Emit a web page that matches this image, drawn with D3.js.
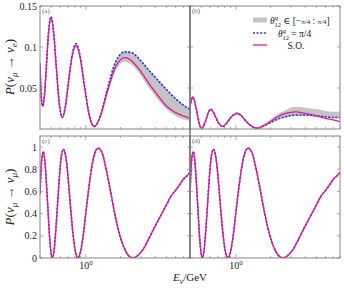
<!DOCTYPE html>
<html>
<head>
<meta charset="utf-8">
<script src="https://cdn.jsdelivr.net/npm/d3@7"></script>
<style>
  body { margin: 0; background: #fff; }
  svg { display: block; }
  text { font-family: "Liberation Serif", "DejaVu Serif", serif; fill: #222; }
</style>
</head>
<body>
<div id="chart"></div>
<script>
// ---- data ----
// (a) P(nu_mu -> nu_e), left setup
const energyA = [0.40,0.41,0.422,0.439,0.457,0.476,0.498,0.525,0.554,0.587,0.624,0.664,0.709,0.761,0.821,0.889,0.969,1.064,1.18,1.333,1.531,1.80,2.18,2.5,3.0,3.5,4.0,5.0,6.0,7.0,8.0];
const soA      = [0.080,0.040,0.028,0.044,0.082,0.119,0.135,0.117,0.075,0.032,0.014,0.027,0.058,0.089,0.102,0.088,0.053,0.018,0.003,0.015,0.045,0.075,0.087,0.083,0.070,0.056,0.045,0.028,0.020,0.016,0.013];
const maxMixA  = [0.080,0.040,0.028,0.044,0.083,0.121,0.137,0.119,0.076,0.032,0.014,0.028,0.060,0.091,0.104,0.090,0.055,0.019,0.003,0.016,0.048,0.081,0.094,0.093,0.083,0.072,0.063,0.048,0.037,0.029,0.024];
const bandLoA  = [0.079,0.039,0.027,0.043,0.081,0.117,0.133,0.115,0.073,0.031,0.013,0.026,0.056,0.086,0.099,0.085,0.051,0.016,0.002,0.013,0.041,0.070,0.082,0.078,0.065,0.051,0.040,0.024,0.016,0.012,0.010];
const bandHiA  = [0.081,0.041,0.029,0.045,0.084,0.122,0.138,0.120,0.077,0.033,0.015,0.029,0.061,0.092,0.105,0.091,0.056,0.020,0.004,0.017,0.049,0.082,0.095,0.094,0.084,0.073,0.064,0.049,0.038,0.030,0.025];

// (b) P(nu_mu -> nu_e), right setup
const energyB = [0.40,0.422,0.44,0.46,0.48,0.505,0.53,0.555,0.58,0.605,0.635,0.67,0.71,0.768,0.83,0.89,0.95,1.016,1.10,1.20,1.32,1.534,1.75,2.0,2.3,2.7,3.26,4.0,5.0,6.0,7.0,8.0];
const soB      = [0.027,0.039,0.033,0.020,0.007,0.001,0.005,0.013,0.021,0.024,0.021,0.014,0.007,0.003,0.007,0.013,0.017,0.019,0.017,0.011,0.005,0.001,0.004,0.009,0.015,0.019,0.021,0.019,0.016,0.013,0.011,0.009];
const maxMixB  = [0.027,0.039,0.033,0.020,0.007,0.001,0.005,0.013,0.021,0.024,0.021,0.014,0.007,0.003,0.007,0.013,0.017,0.019,0.017,0.011,0.005,0.001,0.004,0.008,0.012,0.015,0.017,0.017,0.016,0.015,0.014,0.014];
const bandLoB  = [0.026,0.038,0.032,0.019,0.006,0.000,0.004,0.012,0.020,0.023,0.020,0.013,0.006,0.002,0.006,0.012,0.016,0.018,0.016,0.010,0.004,0.000,0.003,0.007,0.011,0.014,0.016,0.016,0.015,0.014,0.013,0.013];
const bandHiB  = [0.028,0.040,0.034,0.021,0.008,0.002,0.006,0.014,0.022,0.025,0.022,0.015,0.008,0.004,0.008,0.014,0.018,0.020,0.018,0.012,0.006,0.002,0.006,0.012,0.018,0.023,0.027,0.026,0.024,0.022,0.021,0.021];

// (c), (d) P(nu_mu -> nu_mu)
const energyC = [0.40,0.415,0.427,0.44,0.455,0.47,0.485,0.50,0.512,0.53,0.55,0.57,0.59,0.615,0.64,0.665,0.69,0.72,0.75,0.78,0.81,0.853,0.90,0.95,1.00,1.06,1.12,1.19,1.28,1.38,1.50,1.63,1.78,1.95,2.15,2.35,2.56,2.8,3.1,3.5,4.0,4.5,5.0,5.5,6.0,6.5,7.0,7.5,8.0];
const soC      = [0.58,0.90,0.96,0.88,0.67,0.42,0.18,0.04,0.0,0.07,0.27,0.51,0.74,0.93,0.98,0.93,0.80,0.58,0.36,0.18,0.06,0.0,0.06,0.21,0.41,0.63,0.81,0.94,0.99,0.95,0.80,0.61,0.40,0.22,0.09,0.02,0.0,0.02,0.07,0.17,0.29,0.39,0.48,0.56,0.61,0.66,0.71,0.74,0.77];
const soD      = [0.58,0.90,0.96,0.88,0.67,0.42,0.18,0.04,0.0,0.07,0.27,0.51,0.74,0.93,0.98,0.93,0.80,0.58,0.36,0.18,0.06,0.0,0.06,0.21,0.41,0.63,0.81,0.94,0.99,0.95,0.80,0.61,0.40,0.22,0.09,0.02,0.0,0.02,0.07,0.17,0.29,0.39,0.48,0.56,0.61,0.66,0.71,0.74,0.77];

const xDomain = [0.4, 8];
const xMinorTicks = [0.4,0.5,0.6,0.7,0.8,0.9,2,3,4,5,6,7,8];
const xMajorTicks = [1];
const yTicksTop = [0.05, 0.1, 0.15];
const yTicksBottom = [0, 0.2, 0.4, 0.6, 0.8, 1];

const W = 344, H = 288;
const colors = { band: '#c4c4c4', dash: '#1f2bff', so: '#e3198c', frame: '#858585' };

const svg = d3.select('#chart').append('svg')
  .attr('width', W).attr('height', H);

const zip = (e, v) => e.map((d, i) => ({ e: d, v: v[i] }));

const panels = [
  { id: 'a', x0: 40, x1: 190, y0: 6, y1: 129, yDomain: [0, 0.15], yTicks: yTicksTop, labels: true,
    energy: energyA, so: soA, mix: maxMixA, lo: bandLoA, hi: bandHiA },
  { id: 'b', x0: 190, x1: 340, y0: 6, y1: 129, yDomain: [0, 0.15], yTicks: yTicksTop, labels: false,
    energy: energyB, so: soB, mix: maxMixB, lo: bandLoB, hi: bandHiB },
  { id: 'c', x0: 40, x1: 190, y0: 136, y1: 258, yDomain: [0, 1.1], yTicks: yTicksBottom, labels: true,
    energy: energyC, so: soC, mix: soC, lo: null, hi: null },
  { id: 'd', x0: 190, x1: 340, y0: 136, y1: 258, yDomain: [0, 1.1], yTicks: yTicksBottom, labels: false,
    energy: energyC, so: soD, mix: soD, lo: null, hi: null }
];

panels.forEach(p => {
  const x = d3.scaleLog().domain(xDomain).range([p.x0, p.x1]);
  const y = d3.scaleLinear().domain(p.yDomain).range([p.y1, p.y0]);

  svg.append('clipPath').attr('id', 'clip-' + p.id)
    .append('rect')
    .attr('x', p.x0).attr('y', p.y0)
    .attr('width', p.x1 - p.x0).attr('height', p.y1 - p.y0);

  const g = svg.append('g').attr('clip-path', `url(#clip-${p.id})`);

  // range band
  if (p.lo) {
    const bandData = p.energy.map((e, i) => ({ e, lo: p.lo[i], hi: p.hi[i] }));
    g.append('path')
      .datum(bandData)
      .attr('d', d3.area()
        .x(d => x(d.e)).y0(d => y(d.lo)).y1(d => y(d.hi))
        .curve(d3.curveMonotoneX))
      .style('fill', colors.band);
  }

  const line = d3.line()
    .x(d => x(d.e)).y(d => y(d.v))
    .curve(d3.curveMonotoneX);

  g.append('path')
    .datum(zip(p.energy, p.mix))
    .attr('d', line)
    .style('fill', 'none')
    .style('stroke', colors.dash)
    .style('stroke-width', 1.6)
    .style('stroke-dasharray', '2,1.6');

  g.append('path')
    .datum(zip(p.energy, p.so))
    .attr('d', line)
    .style('fill', 'none')
    .style('stroke', colors.so)
    .style('stroke-width', 1.3);

  // ticks, mirrored on all sides
  const ax = svg.append('g').style('stroke', colors.frame).style('stroke-width', 0.7);
  xMinorTicks.forEach(t => {
    ax.append('line').attr('x1', x(t)).attr('x2', x(t)).attr('y1', p.y1).attr('y2', p.y1 - 2);
    ax.append('line').attr('x1', x(t)).attr('x2', x(t)).attr('y1', p.y0).attr('y2', p.y0 + 2);
  });
  xMajorTicks.forEach(t => {
    ax.append('line').attr('x1', x(t)).attr('x2', x(t)).attr('y1', p.y1).attr('y2', p.y1 - 4);
    ax.append('line').attr('x1', x(t)).attr('x2', x(t)).attr('y1', p.y0).attr('y2', p.y0 + 4);
  });
  p.yTicks.forEach(t => {
    ax.append('line').attr('x1', p.x0).attr('x2', p.x0 + 3).attr('y1', y(t)).attr('y2', y(t));
    ax.append('line').attr('x1', p.x1).attr('x2', p.x1 - 3).attr('y1', y(t)).attr('y2', y(t));
  });

  // frame
  svg.append('rect')
    .attr('x', p.x0).attr('y', p.y0)
    .attr('width', p.x1 - p.x0).attr('height', p.y1 - p.y0)
    .style('fill', 'none').style('stroke', colors.frame).style('stroke-width', 1);

  // panel tag
  svg.append('text')
    .attr('x', p.x0 + 2).attr('y', p.y0 + 7)
    .style('font-size', '7px').style('fill', '#666')
    .text(`(${p.id})`);

  // y tick labels
  if (p.labels) {
    p.yTicks.forEach(t => {
      svg.append('text')
        .attr('x', p.x0 - 3).attr('y', y(t) + 3.5)
        .attr('text-anchor', 'end')
        .style('font-size', '10px')
        .text(d3.format('~g')(t));
    });
  }

  // 10^0 label under bottom panels
  if (p.id === 'c' || p.id === 'd') {
    const t = svg.append('text')
      .attr('x', x(1)).attr('y', p.y1 + 11)
      .attr('text-anchor', 'middle')
      .style('font-size', '10px');
    t.append('tspan').text('10');
    t.append('tspan').attr('dy', -4).style('font-size', '7px').text('0');
  }
});

// middle divider is drawn darker
svg.append('line')
  .attr('x1', 190).attr('x2', 190).attr('y1', 6).attr('y2', 258)
  .style('stroke', '#777').style('stroke-width', 1.5);

// axis titles
function yTitle(cy, sub) {
  const t = svg.append('text')
    .attr('transform', `translate(14,${cy}) rotate(-90)`)
    .attr('text-anchor', 'middle')
    .style('font-size', '13px');
  t.append('tspan').style('font-style', 'italic').text('P');
  t.append('tspan').text('(');
  t.append('tspan').style('font-style', 'italic').text('ν');
  t.append('tspan').attr('dy', 3).style('font-size', '9px').style('font-style', 'italic').text('μ');
  t.append('tspan').attr('dy', -3).text(' → ');
  t.append('tspan').style('font-style', 'italic').text('ν');
  t.append('tspan').attr('dy', 3).style('font-size', '9px').style('font-style', 'italic').text(sub);
  t.append('tspan').attr('dy', -3).text(')');
}
yTitle(67, 'e');
yTitle(197, 'μ');

const xt = svg.append('text')
  .attr('x', 190).attr('y', 281)
  .attr('text-anchor', 'middle')
  .style('font-size', '11px');
xt.append('tspan').style('font-style', 'italic').text('E');
xt.append('tspan').attr('dy', 3).style('font-size', '8px').style('font-style', 'italic').text('ν');
xt.append('tspan').attr('dy', -3).text('/GeV');

// legend in panel (b)
const legend = svg.append('g');
const rows = [
  { y: 20, kind: 'band' },
  { y: 33, kind: 'dash' },
  { y: 45, kind: 'so' }
];
rows.forEach(r => {
  if (r.kind === 'band') {
    legend.append('rect').attr('x', 253).attr('y', r.y - 2.5).attr('width', 14).attr('height', 5)
      .style('fill', colors.band);
  } else {
    legend.append('line').attr('x1', 253).attr('x2', 267).attr('y1', r.y).attr('y2', r.y)
      .style('stroke', r.kind === 'dash' ? colors.dash : colors.so)
      .style('stroke-width', r.kind === 'dash' ? 1.6 : 1.3)
      .style('stroke-dasharray', r.kind === 'dash' ? '2,1.6' : null);
  }
});
const l1 = legend.append('text').attr('x', 270).attr('y', 24).style('font-size', '9.5px');
l1.append('tspan').style('font-style', 'italic').text('θ');
l1.append('tspan').attr('dy', -4).style('font-size', '6.5px').style('font-style', 'italic').text('q');
l1.append('tspan').attr('dx', -3.5).attr('dy', 6.5).style('font-size', '6.5px').text('12');
l1.append('tspan').attr('dy', -2.5).text(' ∈ [−');
l1.append('tspan').style('font-size', '7px').text('π/4');
l1.append('tspan').text(' : ');
l1.append('tspan').style('font-size', '7px').text('π/4');
l1.append('tspan').text(']');

const l2 = legend.append('text').attr('x', 278).attr('y', 37).style('font-size', '9.5px');
l2.append('tspan').style('font-style', 'italic').text('θ');
l2.append('tspan').attr('dy', -4).style('font-size', '6.5px').style('font-style', 'italic').text('q');
l2.append('tspan').attr('dx', -3.5).attr('dy', 6.5).style('font-size', '6.5px').text('12');
l2.append('tspan').attr('dy', -2.5).text(' = π/4');

legend.append('text').attr('x', 296).attr('y', 49).attr('text-anchor', 'middle')
  .style('font-size', '9.5px').text('S.O.');
</script>
</body>
</html>
